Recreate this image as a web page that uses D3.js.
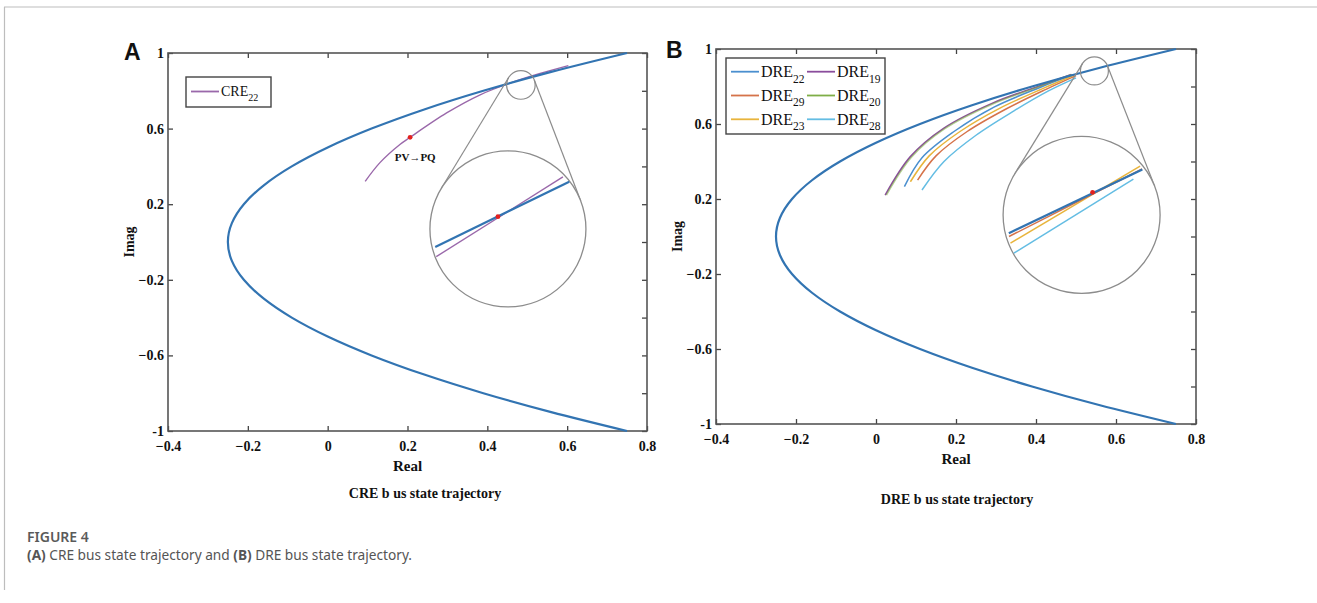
<!DOCTYPE html>
<html>
<head>
<meta charset="utf-8">
<script src="https://cdn.jsdelivr.net/npm/d3@7"></script>
<style>
  body { margin: 0; background: #fff; }
</style>
</head>
<body>
<script>
// ---- data ----
const xTicks = [-0.4, -0.2, 0, 0.2, 0.4, 0.6, 0.8];
const yLabelTicks = [-1, -0.6, -0.2, 0.2, 0.6, 1];
const yMinorTicks = [-1, -0.8, -0.6, -0.4, -0.2, 0, 0.2, 0.4, 0.6, 0.8, 1];

// stability boundary (both panels)
const boundaryImag = [-1, -0.9, -0.8, -0.7, -0.6, -0.5, -0.4, -0.3, -0.2, -0.1, 0, 0.1, 0.2, 0.3, 0.4, 0.5, 0.6, 0.7, 0.8, 0.9, 1];
const boundaryReal = [0.75, 0.56, 0.39, 0.24, 0.11, 0.00, -0.09, -0.16, -0.21, -0.24, -0.25, -0.24, -0.21, -0.16, -0.09, 0.00, 0.11, 0.24, 0.39, 0.56, 0.75];

// panel A trajectory
const cre22Real = [0.094, 0.131, 0.181, 0.2065, 0.298, 0.382, 0.46, 0.53, 0.603];
const cre22Imag = [0.321, 0.42, 0.516, 0.554, 0.683, 0.779, 0.843, 0.89, 0.933];
const pvpqPoint = [0.2065, 0.554];

// panel B trajectories
const dreNames = ['DRE22', 'DRE19', 'DRE29', 'DRE20', 'DRE23', 'DRE28'];
const dre22Real = [0.071, 0.115, 0.195, 0.295, 0.41, 0.49];
const dre22Imag = [0.266, 0.42, 0.56, 0.69, 0.795, 0.862];
const dre19Real = [0.023, 0.086, 0.169, 0.29, 0.405, 0.488];
const dre19Imag = [0.221, 0.426, 0.577, 0.71, 0.80, 0.864];
const dre20Real = [0.026, 0.089, 0.172, 0.293, 0.407, 0.489];
const dre20Imag = [0.221, 0.424, 0.575, 0.708, 0.799, 0.864];
const dre29Real = [0.104, 0.15, 0.228, 0.325, 0.425, 0.50];
const dre29Imag = [0.301, 0.43, 0.56, 0.68, 0.785, 0.858];
const dre23Real = [0.086, 0.133, 0.21, 0.31, 0.418, 0.495];
const dre23Imag = [0.292, 0.43, 0.56, 0.685, 0.79, 0.86];
const dre28Real = [0.115, 0.17, 0.25, 0.345, 0.43, 0.50];
const dre28Imag = [0.248, 0.40, 0.54, 0.67, 0.775, 0.846];

// magnified views, in the inset's own [-1,1] coordinates
const insetA_blue = [[-0.932, 0.231], [0.786, -0.606]];
const insetA_purple = [[-0.919, 0.355], [0.705, -0.667]];
const insetA_dot = [-0.128, -0.158];
const insetB_orange = [[-0.925, 0.275], [0.77, -0.585]];
const insetB_blue = [[-0.927, 0.232], [0.774, -0.58]];
const insetB_yellow = [[-0.906, 0.359], [0.745, -0.622]];
const insetB_cyan = [[-0.863, 0.486], [0.66, -0.455]];
const insetB_dot = [0.14, -0.288];

// ---- page ----
const W = 1317, H = 603;
const SERIF = '"Liberation Serif", "Times New Roman", serif';
const svg = d3.select('body').append('svg').attr('width', W).attr('height', H)
  .attr('font-family', SERIF);
svg.append('rect').attr('width', W).attr('height', H).attr('fill', '#fff');

// figure frame
svg.append('line').attr('x1', 4).attr('x2', W).attr('y1', 7).attr('y2', 7).attr('stroke', '#bdbdbd').attr('stroke-width', 1.2);
svg.append('line').attr('x1', 4.5).attr('x2', 4.5).attr('y1', 7).attr('y2', 590).attr('stroke', '#bdbdbd').attr('stroke-width', 1.2);

const zip = (a, b) => a.map((v, i) => [v, b[i]]);
const boundary = zip(boundaryReal, boundaryImag);

function drawPanel(cfg) {
  const x = d3.scaleLinear().domain([-0.4, 0.8]).range([cfg.left, cfg.right]);
  const y = d3.scaleLinear().domain([-1, 1]).range([cfg.bottom, cfg.top]);
  const g = svg.append('g');

  // axes (ticks pointing inward, MATLAB style)
  const ax = (sel) => sel.selectAll('.domain').remove();
  g.append('g').attr('transform', `translate(0,${cfg.bottom})`)
    .call(d3.axisBottom(x).tickValues(xTicks).tickSize(-5).tickPadding(10).tickFormat(d => d === 0 ? '0' : d3.format('.1f')(d)))
    .call(ax);
  g.append('g').attr('transform', `translate(0,${cfg.top})`)
    .call(d3.axisTop(x).tickValues(xTicks).tickSize(-5).tickFormat(''))
    .call(ax);
  g.append('g').attr('transform', `translate(${cfg.left},0)`)
    .call(d3.axisLeft(y).tickValues(yLabelTicks).tickSize(-5).tickPadding(4).tickFormat(d => Math.abs(d) === 1 ? String(d) : d3.format('.1f')(d)))
    .call(ax);
  g.append('g').attr('transform', `translate(${cfg.right},0)`)
    .call(d3.axisRight(y).tickValues(yMinorTicks).tickSize(-5).tickFormat(''))
    .call(ax);
  g.selectAll('.tick line').attr('stroke', '#444').attr('stroke-width', 1.3);
  g.selectAll('.tick text')
    .attr('font-family', SERIF)
    .attr('font-weight', 'bold').attr('font-size', 14).attr('fill', '#111');

  // box
  g.append('rect').attr('x', cfg.left).attr('y', cfg.top)
    .attr('width', cfg.right - cfg.left).attr('height', cfg.bottom - cfg.top)
    .attr('fill', 'none').attr('stroke', '#555').attr('stroke-width', 1.6);

  // axis titles
  g.append('text').attr('x', (cfg.left + cfg.right) / 2).attr('y', cfg.bottom + 40)
    .attr('text-anchor', 'middle').attr('font-weight', 'bold').attr('font-size', 15).attr('fill', '#111').text('Real');
  g.append('text').attr('transform', `translate(${cfg.left - 34},${y(0)}) rotate(-90)`)
    .attr('text-anchor', 'middle').attr('font-weight', 'bold').attr('font-size', 14).attr('fill', '#111').text('Imag');
  g.append('text').attr('x', cfg.titleX).attr('y', cfg.titleY)
    .attr('text-anchor', 'middle').attr('font-weight', 'bold').attr('font-size', 14).attr('fill', '#111').text(cfg.title);

  // panel letter
  g.append('text').attr('x', cfg.letterX).attr('y', cfg.letterY)
    .attr('font-family', '"Liberation Sans", Arial, sans-serif').attr('font-weight', 'bold')
    .attr('font-size', 23).attr('fill', '#111').text(cfg.letter);

  const line = d3.line().x(d => x(d[0])).y(d => y(d[1]));

  // trajectories
  cfg.series.forEach(s => {
    g.append('path').attr('d', line.curve(d3.curveCatmullRom)(s.pts))
      .attr('fill', 'none').attr('stroke', s.color).attr('stroke-width', s.width)
      .attr('stroke-opacity', s.opacity || 1);
  });

  // boundary
  g.append('path').attr('d', line.curve(d3.curveNatural)(boundary))
    .attr('fill', 'none').attr('stroke', '#3274b2').attr('stroke-width', 2.2);

  if (cfg.dot) {
    g.append('circle').attr('cx', x(cfg.dot[0])).attr('cy', y(cfg.dot[1])).attr('r', 2.4).attr('fill', '#e3211f');
  }
  if (cfg.note) {
    g.append('text').attr('x', x(cfg.note.at[0])).attr('y', y(cfg.note.at[1]))
      .attr('font-weight', 'bold').attr('font-size', 11).attr('fill', '#111').text(cfg.note.text);
  }

  // magnifier: small circle, tangent lines, big circle
  const c1 = [x(cfg.inset.small[0]), y(cfg.inset.small[1])], r1 = cfg.inset.rs;
  const c2 = [x(cfg.inset.big[0]), y(cfg.inset.big[1])], r2 = cfg.inset.rb;
  const dx = c2[0] - c1[0], dy = c2[1] - c1[1], D = Math.hypot(dx, dy);
  const base = Math.atan2(dy, dx), th = Math.acos((r2 - r1) / D);
  [base + th, base - th].forEach(a => {
    const n = [Math.cos(a), Math.sin(a)];
    g.append('line')
      .attr('x1', c1[0] - r1 * n[0]).attr('y1', c1[1] - r1 * n[1])
      .attr('x2', c2[0] - r2 * n[0]).attr('y2', c2[1] - r2 * n[1])
      .attr('stroke', '#8c8c8c').attr('stroke-width', 1.2);
  });
  g.append('circle').attr('cx', c1[0]).attr('cy', c1[1]).attr('r', r1)
    .attr('fill', 'none').attr('stroke', '#8c8c8c').attr('stroke-width', 1.2);
  g.append('circle').attr('cx', c2[0]).attr('cy', c2[1]).attr('r', r2)
    .attr('fill', '#fff').attr('stroke', '#8c8c8c').attr('stroke-width', 1.3);

  const lx = d3.scaleLinear().domain([-1, 1]).range([c2[0] - r2, c2[0] + r2]);
  const ly = d3.scaleLinear().domain([-1, 1]).range([c2[1] - r2, c2[1] + r2]);
  const iline = d3.line().x(d => lx(d[0])).y(d => ly(d[1]));
  cfg.inset.lines.forEach(l => {
    g.append('path').attr('d', iline(l.pts)).attr('fill', 'none')
      .attr('stroke', l.color).attr('stroke-width', l.width);
  });
  g.append('circle').attr('cx', lx(cfg.inset.dot[0])).attr('cy', ly(cfg.inset.dot[1])).attr('r', 2.4).attr('fill', '#e3211f');

  // legend
  const L = cfg.legend;
  g.append('rect').attr('x', L.x).attr('y', L.y).attr('width', L.w).attr('height', L.h)
    .attr('fill', '#fff').attr('stroke', '#444').attr('stroke-width', 1.4);
  L.items.forEach((it, i) => {
    const col = i % L.cols, row = Math.floor(i / L.cols);
    const ix = L.x + 5 + col * L.colW, iy = L.y + L.rowY0 + row * L.rowH;
    g.append('line').attr('x1', ix).attr('x2', ix + L.lineW).attr('y1', iy).attr('y2', iy)
      .attr('stroke', it.color).attr('stroke-width', 1.8);
    const t = g.append('text').attr('x', ix + L.lineW + 2).attr('y', iy + L.fs * 0.33)
      .attr('font-size', L.fs).attr('fill', '#111');
    t.append('tspan').text(it.name.slice(0, 3));
    t.append('tspan').attr('dy', L.fs * 0.35).attr('font-size', L.fs * 0.72).text(it.name.slice(3));
  });
}

// colours
const cPurple = '#8a4d9c', cOrange = '#d5734a', cGreen = '#7fae48',
  cYellow = '#e8b43c', cCyan = '#64bde3', cLegBlue = '#4a8fcf';

drawPanel({
  left: 168, right: 647, top: 53, bottom: 431,
  letter: 'A', letterX: 124, letterY: 60,
  title: 'CRE b us state trajectory', titleX: 425, titleY: 498,
  series: [{ pts: zip(cre22Real, cre22Imag), color: '#9a68aa', width: 1.4 }],
  dot: pvpqPoint,
  note: { at: [0.168, 0.43], text: 'PV\u2192PQ' },
  inset: {
    small: [0.484, 0.831], rs: 14.3, big: [0.4516, 0.069], rb: 78,
    lines: [
      { pts: insetA_purple, color: '#9a68aa', width: 1.4 },
      { pts: insetA_blue, color: '#3274b2', width: 2.2 }
    ],
    dot: insetA_dot
  },
  legend: {
    x: 186, y: 77, w: 85, h: 30, cols: 1, colW: 0, rowH: 0, rowY0: 14.5, lineW: 28, fs: 14,
    items: [{ name: 'CRE22', color: '#9a68aa' }]
  }
});

drawPanel({
  left: 716, right: 1196, top: 49, bottom: 424,
  letter: 'B', letterX: 666, letterY: 58,
  title: 'DRE b us state trajectory', titleX: 957, titleY: 504,
  series: [
    { pts: zip(dre28Real, dre28Imag), color: cCyan, width: 1.5 },
    { pts: zip(dre29Real, dre29Imag), color: cOrange, width: 1.5 },
    { pts: zip(dre23Real, dre23Imag), color: cYellow, width: 1.5 },
    { pts: zip(dre22Real, dre22Imag), color: cLegBlue, width: 1.5 },
    { pts: zip(dre19Real, dre19Imag), color: cPurple, width: 1.6 },
    { pts: zip(dre20Real, dre20Imag), color: cGreen, width: 1.6, opacity: 0.6 }
  ],
  inset: {
    small: [0.546, 0.883], rs: 14, big: [0.514, 0.115], rb: 78.5,
    lines: [
      { pts: insetB_cyan, color: cCyan, width: 1.5 },
      { pts: insetB_yellow, color: cYellow, width: 1.5 },
      { pts: insetB_orange, color: cOrange, width: 1.5 },
      { pts: insetB_blue, color: '#3274b2', width: 2.2 }
    ],
    dot: insetB_dot
  },
  legend: {
    x: 726, y: 58, w: 159, h: 76, cols: 2, colW: 76, rowH: 23.8, rowY0: 13.7, lineW: 28, fs: 16,
    items: dreNames.map((n, i) => ({ name: n, color: [cLegBlue, cPurple, cOrange, cGreen, cYellow, cCyan][i] }))
  }
});

// caption
const cap = svg.append('g').attr('font-family', '"Noto Sans", "Open Sans", sans-serif').attr('fill', '#555');
cap.append('text').attr('x', 27).attr('y', 542).attr('font-size', 14).attr('font-weight', 600)
  .attr('fill', '#5a5a5a').text('FIGURE 4');
const capLine = cap.append('text').attr('x', 27).attr('y', 560).attr('font-size', 13.5).attr('fill', '#555')
  .attr('textLength', 385).attr('lengthAdjust', 'spacingAndGlyphs');
capLine.append('tspan').attr('font-weight', 'bold').text('(A)');
capLine.append('tspan').text(' CRE bus state trajectory and ');
capLine.append('tspan').attr('font-weight', 'bold').text('(B)');
capLine.append('tspan').text(' DRE bus state trajectory.');
</script>
</body>
</html>
